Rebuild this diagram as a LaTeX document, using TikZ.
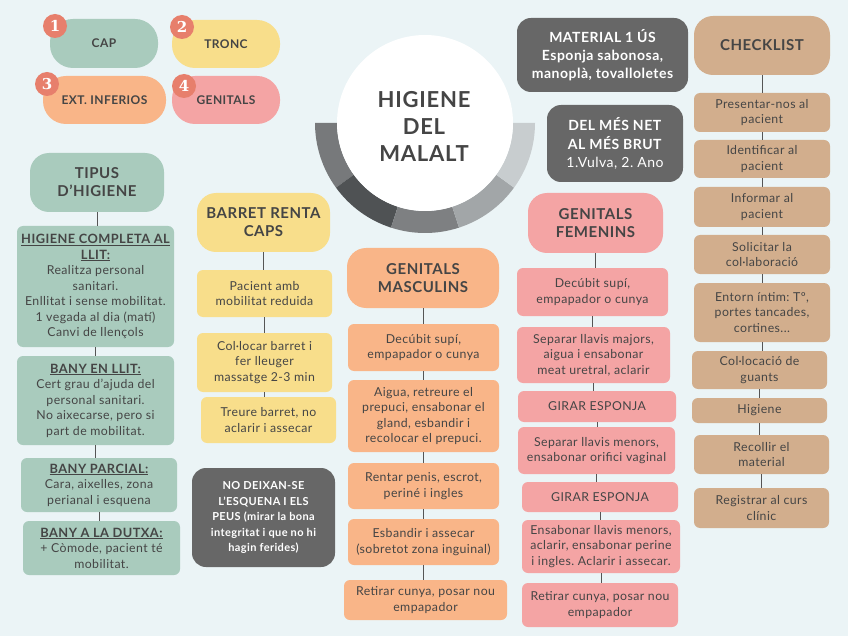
\documentclass[tikz,border=0pt]{standalone}
\usepackage{fontspec}
\setmainfont{Lato}[LetterSpace=3.5]
\newfontfamily\slabfont{DejaVu Serif}
\definecolor{bgc}{HTML}{EBF4F6}
\definecolor{greenc}{HTML}{A9CBBD}
\definecolor{yellowc}{HTML}{F8DE8B}
\definecolor{orangec}{HTML}{F9B588}
\definecolor{pinkc}{HTML}{F4A4A4}
\definecolor{tanc}{HTML}{D2AE8D}
\definecolor{darkc}{HTML}{676767}
\definecolor{badgec}{HTML}{E77F6C}
\definecolor{txtc}{HTML}{454545}
\definecolor{linec}{HTML}{555555}
\definecolor{ringa}{HTML}{77797B}
\definecolor{ringb}{HTML}{4F5254}
\definecolor{ringc}{HTML}{7E8082}
\definecolor{ringd}{HTML}{A2A6A8}
\definecolor{ringe}{HTML}{C8CDCF}
\newcommand\mkbox[7]{\node[#2, minimum width=#5pt, minimum height=#6pt] (#1) at (#3,#4) {#7};}
\newcommand\cnx[2]{\draw[conn] (#1.south) -- (#1.south |- #2.north);}
\newcommand\hbl[1]{{\bfseries\fontsize{12.8}{15.5}\selectfont\underline{#1}}}
\frenchspacing
\begin{document}
\frenchspacing
\begin{tikzpicture}[x=1pt,y=-1pt,
  base/.style={draw=none, align=center, inner xsep=1pt, inner ysep=2pt, text=txtc, font=\fontsize{12.3}{15.5}\selectfont},
  item/.style={base, rounded corners=6pt},
  head/.style={base, rounded corners=19pt, font=\bfseries\fontsize{15}{18}\selectfont},
  pill/.style={base, rounded corners=23pt, font=\bfseries\fontsize{12}{14}\selectfont},
  darkbox/.style={base, fill=darkc, text=white, rounded corners=14pt},
  badge/.style={circle, fill=badgec, minimum size=24pt, inner sep=0pt, text=white, font=\slabfont\bfseries\fontsize{15}{15}\selectfont},
  conn/.style={draw=linec, line width=1pt}]
\fill[bgc] (0,0) rectangle (848,636);
\useasboundingbox (0,0) rectangle (848,636);

% top-left pills
\mkbox{cap}{pill, fill=greenc}{104}{43.5}{108}{49}{CAP}
\mkbox{tronc}{pill, fill=yellowc}{226}{44}{108}{48}{TRONC}
\mkbox{ext}{pill, fill=orangec}{104.5}{100}{123}{48}{EXT. INFERIOS}
\mkbox{gen}{pill, fill=pinkc}{226}{100}{108}{48}{GENITALS}
\node[badge] (b1) at (55,26) {1};
\node[badge] (b2) at (182,27) {2};
\node[badge] (b3) at (47,84) {3};
\node[badge] (b4) at (184,86) {4};

% centre
\begin{scope}[shift={(425,123)}]
\foreach \a/\b/\c in {180/144/ringa,144/108/ringb,108/72/ringc,72/36/ringd,36/0/ringe}{
  \fill[\c] (\a:110) arc[start angle=\a, end angle=\b, radius=110] -- (\b:88) arc[start angle=\b, end angle=\a, radius=88] -- cycle;
}
\end{scope}
\node[circle, fill=white, minimum size=176pt, inner sep=0pt] (circ) at (425,123) {};
\node[align=center, text=txtc, font=\bfseries\fontsize{22}{27}\selectfont] (title) at (424,126) {HIGIENE\\DEL\\MALALT};

% left column
\mkbox{tipus}{head, fill=greenc}{97}{182.5}{134}{59}{TIPUS\\D’HIGIENE}
\mkbox{completa}{item, fill=greenc}{95.5}{286.5}{157}{121}{\hbl{HIGIENE COMPLETA AL}\\\hbl{LLIT:}\\Realitza personal\\sanitari.\\Enllitat i sense mobilitat.\\1 vegada al dia (matí)\\Canvi de llençols}
\mkbox{llit}{item, fill=greenc}{95.5}{400.5}{157}{89}{\hbl{BANY EN LLIT:}\\Cert grau d’ajuda del\\personal sanitari.\\No aixecarse, pero si\\part de mobilitat.}
\mkbox{parcial}{item, fill=greenc}{99}{485}{156}{54}{\hbl{BANY PARCIAL:}\\Cara, aixelles, zona\\perianal i esquena}
\mkbox{dutxa}{item, fill=greenc}{101.5}{548}{157}{54}{\hbl{BANY A LA DUTXA:}\\+ Còmode, pacient té\\mobilitat.}
\cnx{tipus}{completa}
\cnx{completa}{llit}
\cnx{llit}{parcial}
\cnx{parcial}{dutxa}

% barret column
\mkbox{barret}{head, fill=yellowc}{263.5}{222.5}{133}{59}{BARRET RENTA\\CAPS}
\mkbox{pacient}{item, fill=yellowc}{264.5}{293.5}{135}{47}{Pacient amb\\mobilitat reduida}
\mkbox{collocar}{item, fill=yellowc}{264.5}{362.5}{135}{59}{Col·locar barret i\\fer lleuger\\massatge 2-3 min}
\mkbox{treure}{item, fill=yellowc}{268.5}{420}{135}{46}{Treure barret, no\\aclarir i assecar}
\mkbox{nodeix}{darkbox, font=\bfseries\fontsize{11}{15.5}\selectfont}{263.5}{517.5}{143}{99}{NO DEIXAN-SE\\L’ESQUENA I ELS\\PEUS (mirar la bona\\integritat i que no hi\\hagin ferides)}
\cnx{barret}{pacient}
\cnx{pacient}{collocar}
\cnx{collocar}{treure}

% genitals masculins
\mkbox{mh}{head, fill=orangec}{423}{278}{152}{60}{GENITALS\\MASCULINS}
\mkbox{m1}{item, fill=orangec}{423.5}{347.5}{151}{47}{Decúbit supí,\\empapador o cunya}
\mkbox{m2}{item, fill=orangec}{423.5}{416}{151}{72}{Aigua, retreure el\\prepuci, ensabonar el\\gland, esbandir i\\recolocar el prepuci.}
\mkbox{m3}{item, fill=orangec}{423.5}{486}{151}{46}{Rentar penis, escrot,\\periné i ingles}
\mkbox{m4}{item, fill=orangec}{423.5}{542}{151}{46}{Esbandir i assecar\\(sobretot zona inguinal)}
\mkbox{m5}{item, fill=orangec}{425.5}{600}{163}{40}{Retirar cunya, posar nou\\empapador}
\cnx{mh}{m1}
\cnx{m1}{m2}
\cnx{m2}{m3}
\cnx{m3}{m4}
\cnx{m4}{m5}

% top right dark boxes
\mkbox{material}{darkbox, font=\bfseries\fontsize{14}{18}\selectfont}{602.5}{55}{171}{74}{MATERIAL 1 ÚS\\Esponja sabonosa,\\manoplà, tovalloletes}
\mkbox{mesnet}{darkbox, font=\fontsize{14}{18.5}\selectfont}{615}{143.5}{136}{77}{\textbf{DEL MÉS NET}\\\textbf{AL MÉS BRUT}\\1.Vulva, 2. Ano}

% genitals femenins
\mkbox{fh}{head, fill=pinkc}{595.5}{223}{135}{60}{GENITALS\\FEMENINS}
\mkbox{f1}{item, fill=pinkc}{592.5}{292}{151}{48}{Decúbit supí,\\empapador o cunya}
\mkbox{f2}{item, fill=pinkc}{593.5}{355}{153}{56}{Separar llavis majors,\\aigua i ensabonar\\meat uretral, aclarir}
\mkbox{f3}{item, fill=pinkc}{597}{406.5}{158}{31}{GIRAR ESPONJA}
\mkbox{f4}{item, fill=pinkc}{596.5}{450.5}{157}{47}{Separar llavis menors,\\ensabonar orifici vaginal}
\mkbox{f5}{item, fill=pinkc}{600}{497}{156}{30}{GIRAR ESPONJA}
\mkbox{f6}{item, fill=pinkc}{601}{546.5}{158}{53}{Ensabonar llavis menors,\\aclarir, ensabonar perine\\i ingles. Aclarir i assecar.}
\mkbox{f7}{item, fill=pinkc}{600}{605}{156}{44}{Retirar cunya, posar nou\\empapador}
\cnx{fh}{f1}
\cnx{f1}{f2}
\cnx{f2}{f3}
\cnx{f3}{f4}
\cnx{f4}{f5}
\cnx{f5}{f6}
\cnx{f6}{f7}

% checklist
\mkbox{ch}{head, fill=tanc}{762}{45.5}{136}{59}{CHECKLIST}
\mkbox{c1}{item, fill=tanc}{762}{112.5}{136}{39}{Presentar-nos al\\pacient}
\mkbox{c2}{item, fill=tanc}{762}{159}{136}{38}{Identificar al\\pacient}
\mkbox{c3}{item, fill=tanc}{762}{207}{136}{40}{Informar al\\pacient}
\mkbox{c4}{item, fill=tanc}{762}{254.5}{136}{39}{Solicitar la\\col·laboració}
\mkbox{c5}{item, fill=tanc}{762}{312.5}{136}{59}{Entorn íntim: Tº,\\portes tancades,\\cortines...}
\mkbox{c6}{item, fill=tanc}{759.5}{370}{135}{38}{Col·locació de\\guants}
\mkbox{c7}{item, fill=tanc}{759.5}{410.5}{135}{25}{Higiene}
\mkbox{c8}{item, fill=tanc}{761.5}{454.5}{135}{39}{Recollir el\\material}
\mkbox{c9}{item, fill=tanc}{761.5}{508}{135}{40}{Registrar al curs\\clínic}
\cnx{ch}{c1}
\cnx{c1}{c2}
\cnx{c2}{c3}
\cnx{c3}{c4}
\cnx{c4}{c5}
\cnx{c5}{c6}
\cnx{c6}{c7}
\cnx{c7}{c8}
\cnx{c8}{c9}
\end{tikzpicture}
\end{document}
